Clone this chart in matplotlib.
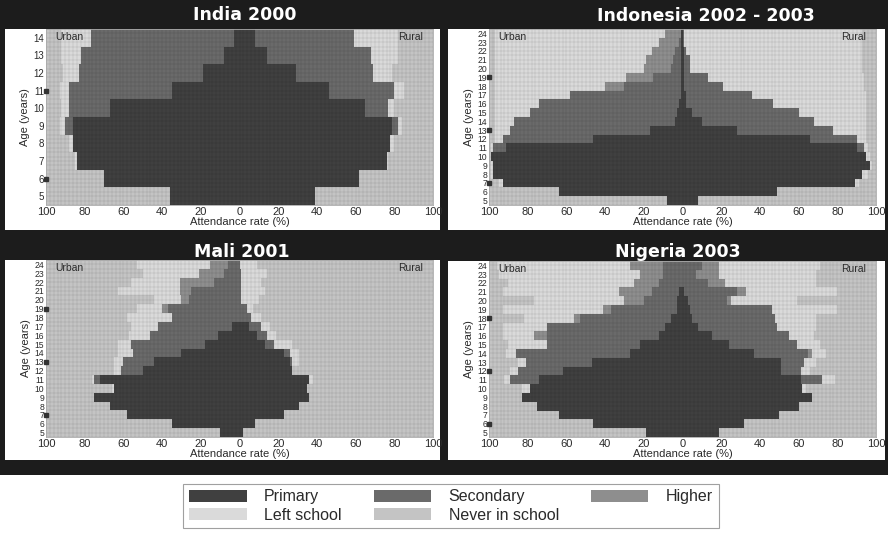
"""
School attendance by age, urban vs rural: India, Indonesia, Mali, Nigeria.
"""
import numpy as np
import matplotlib
matplotlib.use('Agg')
from matplotlib import pyplot as plt
from matplotlib.patches import Rectangle, Patch

plt.rcParams['font.family'] = ['Liberation Sans', 'DejaVu Sans']

# ── Data (percent of children of each age) ────────────────────────────────────
CATEGORIES = ['Primary', 'Secondary', 'Higher', 'Left school', 'Never in school']

india_ages = [5, 6, 7, 8, 9, 10, 11, 12, 13, 14]
india_urban_primary   = [36, 70, 84, 86, 86, 67, 35, 19, 8, 3]
india_urban_secondary = [0, 0, 0, 0, 4, 21, 53, 64, 74, 74]
india_urban_higher    = [0, 0, 0, 0, 0, 0, 0, 0, 0, 0]
india_urban_left      = [0, 0, 1, 2, 3, 4, 5, 8, 10, 15]
india_urban_never     = [64, 30, 15, 12, 7, 8, 7, 9, 8, 8]
india_rural_primary   = [39, 62, 76, 78, 79, 65, 46, 29, 14, 8]
india_rural_secondary = [0, 0, 0, 0, 3, 12, 34, 40, 54, 51]
india_rural_higher    = [0, 0, 0, 0, 0, 0, 0, 0, 0, 0]
india_rural_left      = [0, 0, 1, 2, 2, 3, 5, 10, 14, 23]
india_rural_never     = [61, 38, 23, 20, 16, 20, 15, 21, 18, 18]
india_marks = [6, 11]

indonesia_ages = list(range(5, 25))
indonesia_urban_primary   = [8, 64, 93, 98, 98, 99, 91, 46, 17, 4, 3, 2, 1, 1, 1, 1, 1, 1, 1, 1]
indonesia_urban_secondary = [0, 0, 0, 0, 0, 0, 7, 47, 72, 83, 76, 72, 57, 29, 14, 5, 4, 3, 1, 0]
indonesia_urban_higher    = [0, 0, 0, 0, 0, 0, 0, 0, 0, 0, 0, 0, 0, 10, 14, 14, 14, 12, 10, 8]
indonesia_urban_left      = [0, 0, 2, 1, 1, 0, 1, 4, 8, 10, 18, 23, 39, 57, 68, 77, 78, 81, 85, 88]
indonesia_urban_never     = [92, 36, 5, 1, 1, 1, 1, 3, 3, 3, 3, 3, 3, 3, 3, 3, 3, 3, 3, 3]
indonesia_rural_primary   = [8, 49, 89, 93, 97, 95, 90, 66, 28, 10, 5, 2, 2, 1, 1, 1, 1, 1, 0, 0]
indonesia_rural_secondary = [0, 0, 0, 0, 0, 0, 4, 24, 50, 58, 55, 45, 34, 20, 12, 3, 3, 1, 1, 1]
indonesia_rural_higher    = [0] * 20
indonesia_rural_left      = [0, 0, 2, 3, 1, 2, 2, 5, 17, 27, 35, 48, 59, 73, 81, 89, 89, 91, 92, 92]
indonesia_rural_never     = [92, 51, 9, 4, 2, 3, 4, 5, 5, 5, 5, 5, 5, 6, 6, 7, 7, 7, 7, 7]
indonesia_marks = [7, 13, 19]

mali_ages = list(range(5, 25))
mali_urban_primary   = [10, 35, 58, 67, 75, 65, 72, 50, 44, 30, 18, 11, 4, 0, 0, 0, 0, 0, 0, 0]
mali_urban_secondary = [0, 0, 0, 0, 0, 0, 3, 11, 16, 25, 38, 35, 38, 35, 37, 26, 25, 13, 8, 6]
mali_urban_higher    = [0, 0, 0, 0, 0, 0, 0, 0, 0, 0, 0, 0, 0, 0, 3, 4, 6, 18, 13, 9]
mali_urban_left      = [0, 0, 0, 0, 0, 1, 1, 4, 5, 8, 7, 11, 14, 23, 13, 14, 32, 25, 29, 38]
mali_urban_never     = [90, 65, 42, 33, 25, 34, 24, 35, 35, 37, 37, 43, 44, 42, 47, 56, 37, 44, 50, 47]
mali_rural_primary   = [2, 8, 23, 31, 36, 35, 36, 27, 26, 23, 13, 9, 5, 0, 0, 0, 0, 0, 0, 0]
mali_rural_secondary = [0, 0, 0, 0, 0, 0, 0, 0, 1, 3, 5, 5, 6, 6, 4, 1, 1, 1, 1, 0]
mali_rural_higher    = [0] * 20
mali_rural_left      = [0, 0, 0, 0, 0, 0, 2, 0, 4, 5, 9, 5, 5, 5, 3, 9, 12, 10, 13, 9]
mali_rural_never     = [98, 92, 77, 69, 64, 65, 62, 73, 69, 69, 73, 81, 84, 89, 93, 90, 87, 89, 86, 91]
mali_marks = [7, 13, 19]

nigeria_ages = list(range(5, 25))
nigeria_urban_primary   = [19, 46, 64, 75, 83, 79, 74, 62, 47, 27, 22, 12, 9, 6, 3, 3, 2, 0, 0, 0]
nigeria_urban_secondary = [0, 0, 0, 0, 0, 0, 15, 23, 34, 59, 48, 58, 61, 47, 34, 17, 14, 12, 10, 10]
nigeria_urban_higher    = [0, 0, 0, 0, 0, 0, 0, 0, 0, 0, 0, 7, 0, 3, 4, 10, 17, 13, 12, 17]
nigeria_urban_left      = [0, 0, 0, 0, 0, 4, 3, 4, 4, 5, 20, 16, 23, 26, 52, 47, 60, 65, 73, 69]
nigeria_urban_never     = [81, 54, 36, 25, 17, 17, 8, 11, 15, 9, 10, 7, 7, 18, 7, 23, 7, 10, 5, 4]
nigeria_rural_primary   = [19, 32, 50, 60, 67, 62, 61, 51, 51, 37, 24, 15, 8, 5, 4, 3, 1, 0, 0, 0]
nigeria_rural_secondary = [0, 0, 0, 0, 0, 0, 11, 10, 12, 28, 35, 40, 41, 43, 42, 20, 27, 13, 7, 10]
nigeria_rural_higher    = [0, 0, 0, 0, 0, 0, 0, 0, 0, 2, 0, 0, 0, 0, 0, 2, 5, 9, 12, 9]
nigeria_rural_left      = [0, 0, 0, 0, 0, 2, 7, 5, 6, 7, 12, 13, 20, 21, 34, 34, 47, 47, 50, 52]
nigeria_rural_never     = [81, 68, 50, 40, 33, 36, 21, 34, 31, 26, 29, 32, 31, 31, 20, 41, 20, 31, 31, 29]
nigeria_marks = [6, 12, 18]

# ── Style ─────────────────────────────────────────────────────────────────────
COLORS   = ['#404040', '#6a6a6a', '#8e8e8e', '#dadada', '#c4c4c4']
DARK_BG  = '#1c1c1c'
TEXT_COL = '#2a2a2a'
W, H = 888, 533


def px_rect(x0, y0, x1, y1):
    """pixel box (top-left origin) -> figure [left, bottom, width, height]"""
    return [x0 / W, 1 - y1 / H, (x1 - x0) / W, (y1 - y0) / H]


panels = [
    dict(title='India 2000', ages=india_ages, marks=india_marks,
         urban=[india_urban_primary, india_urban_secondary, india_urban_higher,
                india_urban_left, india_urban_never],
         rural=[india_rural_primary, india_rural_secondary, india_rural_higher,
                india_rural_left, india_rural_never],
         axbox=(46, 29, 433, 205), panel=(5, 29, 440, 230), title_xy=(245, 15)),
    dict(title='Indonesia 2002 - 2003', ages=indonesia_ages, marks=indonesia_marks,
         urban=[indonesia_urban_primary, indonesia_urban_secondary, indonesia_urban_higher,
                indonesia_urban_left, indonesia_urban_never],
         rural=[indonesia_rural_primary, indonesia_rural_secondary, indonesia_rural_higher,
                indonesia_rural_left, indonesia_rural_never],
         axbox=(489, 29, 876, 205), panel=(448, 29, 885, 230), title_xy=(706, 16)),
    dict(title='Mali 2001', ages=mali_ages, marks=mali_marks,
         urban=[mali_urban_primary, mali_urban_secondary, mali_urban_higher,
                mali_urban_left, mali_urban_never],
         rural=[mali_rural_primary, mali_rural_secondary, mali_rural_higher,
                mali_rural_left, mali_rural_never],
         axbox=(46, 260, 433, 437), panel=(5, 260, 440, 460), title_xy=(242, 252)),
    dict(title='Nigeria 2003', ages=nigeria_ages, marks=nigeria_marks,
         urban=[nigeria_urban_primary, nigeria_urban_secondary, nigeria_urban_higher,
                nigeria_urban_left, nigeria_urban_never],
         rural=[nigeria_rural_primary, nigeria_rural_secondary, nigeria_rural_higher,
                nigeria_rural_left, nigeria_rural_never],
         axbox=(489, 261, 876, 437), panel=(448, 261, 885, 460), title_xy=(678, 252)),
]

fig = plt.figure(figsize=(W / 100, H / 100), dpi=100)
fig.patch.set_facecolor('white')

# dark frame behind the four panels
fig.add_artist(Rectangle((0, 1 - 475 / H), 1, 475 / H, transform=fig.transFigure,
                         facecolor=DARK_BG, edgecolor='none', zorder=-3))

for p in panels:
    l, b, w, h = px_rect(*p['panel'])
    fig.add_artist(Rectangle((l, b), w, h, transform=fig.transFigure,
                             facecolor='white', edgecolor='none', zorder=-2))
    fig.text(p['title_xy'][0] / W, 1 - p['title_xy'][1] / H, p['title'],
             color='white', fontsize=12.5, fontweight='bold', ha='center', va='center',
             family='DejaVu Sans')

    ax = fig.add_axes(px_rect(*p['axbox']))
    ax.set_zorder(2)
    ages = np.array(p['ages'])

    # stacked bars outward from the centre: urban to the left, rural to the right
    cum_u = np.zeros(len(ages))
    cum_r = np.zeros(len(ages))
    for vals_u, vals_r, col in zip(p['urban'], p['rural'], COLORS):
        vu, vr = np.array(vals_u, float), np.array(vals_r, float)
        ax.barh(ages, -vu, left=-cum_u, height=1.0, color=col, edgecolor='none')
        ax.barh(ages, vr, left=cum_r, height=1.0, color=col, edgecolor='none')
        cum_u += vu
        cum_r += vr

    # fine mesh texture of the original
    y0, y1 = ages[0] - 0.5, ages[-1] + 0.5
    step_y = 0.25 if len(ages) <= 10 else 0.5
    ax.vlines(np.arange(-100, 101, 2), y0, y1, color='black', lw=0.35, alpha=0.16)
    ax.hlines(np.arange(y0, y1 + 0.01, step_y), -100, 100, color='black', lw=0.35, alpha=0.16)

    ax.plot([-100] * len(p['marks']), p['marks'], 's', color='#333333',
            markersize=2.8, clip_on=False, zorder=5)

    ax.set_xlim(-100, 100)
    ax.set_ylim(y0, y1)
    ticks = np.arange(-100, 101, 20)
    ax.set_xticks(ticks)
    ax.set_xticklabels([str(abs(t)) for t in ticks], fontsize=8, color=TEXT_COL)
    ax.set_yticks(ages)
    ax.set_yticklabels([str(a) for a in ages], fontsize=7 if len(ages) <= 10 else 6.2,
                       color=TEXT_COL)
    ax.tick_params(length=0, pad=1.5)
    ax.set_xlabel('Attendance rate (%)', fontsize=8, color=TEXT_COL, labelpad=0)
    ax.set_ylabel('Age (years)', fontsize=8, color=TEXT_COL, labelpad=2)
    for s in ax.spines.values():
        s.set_color('#aaaaaa')
        s.set_linewidth(0.6)

    ax.text(0.025, 0.985, 'Urban', transform=ax.transAxes, fontsize=7.5,
            color=TEXT_COL, ha='left', va='top', zorder=6)
    ax.text(0.975, 0.985, 'Rural', transform=ax.transAxes, fontsize=7.5,
            color=TEXT_COL, ha='right', va='top', zorder=6)

# ── Legend ────────────────────────────────────────────────────────────────────
handles = [Patch(facecolor=c, edgecolor='none', label=n) for c, n in zip(COLORS, CATEGORIES)]
order = [0, 3, 1, 4, 2]   # fill rows as Primary/Secondary/Higher, Left/Never
leg = fig.legend([handles[i] for i in order], [CATEGORIES[i] for i in order],
                 ncol=3, loc='center', bbox_to_anchor=(451 / W, 1 - 506 / H),
                 fontsize=11.5, handlelength=3.6, handleheight=0.75,
                 columnspacing=2.0, handletextpad=1.1, labelspacing=0.2,
                 frameon=True, fancybox=False, borderpad=0.35)
leg.get_frame().set_edgecolor('#888888')
leg.get_frame().set_linewidth(0.8)
for t in leg.get_texts():
    t.set_color(TEXT_COL)

fig.savefig('out.png', dpi=100)
